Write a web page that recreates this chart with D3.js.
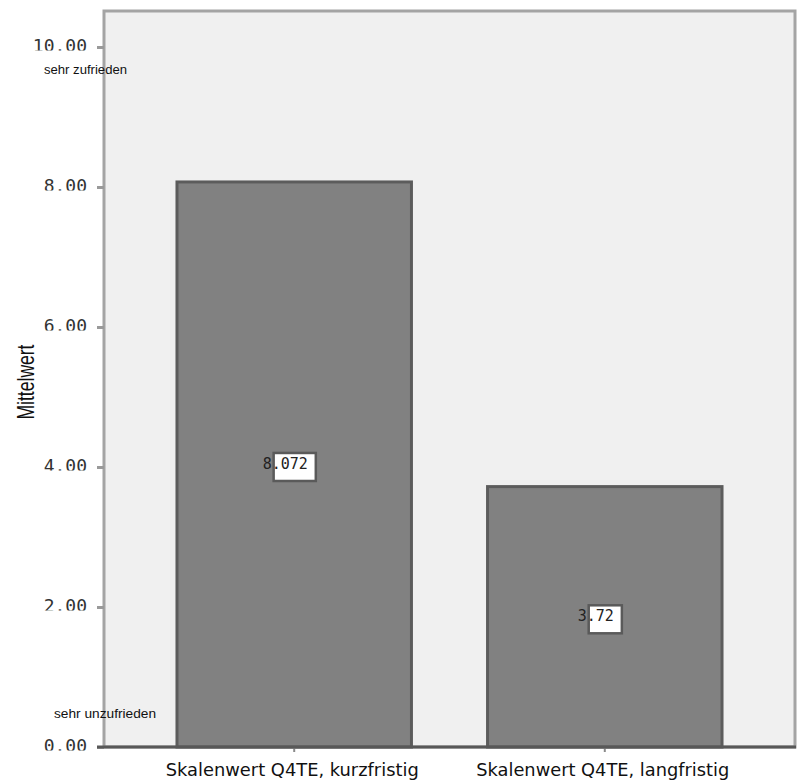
<!DOCTYPE html>
<html>
<head>
<meta charset="utf-8">
<script src="https://cdn.jsdelivr.net/npm/d3@7"></script>
<style>
  html, body { margin: 0; padding: 0; background: #ffffff; }
  svg { display: block; }
</style>
</head>
<body>
<svg id="chart" width="798" height="782"></svg>
<script>
// Mean satisfaction per scale
const categories = ["Skalenwert Q4TE, kurzfristig", "Skalenwert Q4TE, langfristig"];
const means = [8.072, 3.72];
const meanLabels = ["8.072", "3.72"];
const yTicks = [0, 2, 4, 6, 8, 10];
const scaleAnchors = [10, 0];
const scaleAnchorLabels = ["sehr zufrieden", "sehr unzufrieden"];
const yTitle = "Mittelwert";

const svg = d3.select("#chart");
const plot = { left: 104, right: 795, top: 11, bottom: 747 };

const x = d3.scaleBand()
  .domain(categories)
  .range([plot.left, plot.right])
  .paddingInner(0.245)
  .paddingOuter(0.235);

const y = d3.scaleLinear()
  .domain([0, 10])
  .range([plot.bottom, plot.bottom - 700]);

// plot background and frame
svg.append("rect")
  .attr("x", plot.left)
  .attr("y", plot.top)
  .attr("width", plot.right - plot.left)
  .attr("height", plot.bottom - plot.top)
  .attr("fill", "#f0f0f0")
  .attr("stroke", "#a4a4a4")
  .attr("stroke-width", 3);

// bars
svg.append("g").selectAll("rect")
  .data(categories)
  .join("rect")
  .attr("x", d => x(d))
  .attr("y", (d, i) => y(means[i]))
  .attr("width", x.bandwidth())
  .attr("height", (d, i) => y(0) - y(means[i]))
  .attr("fill", "#818181")
  .attr("stroke", "#5c5c5c")
  .attr("stroke-width", 3);

// y axis; tick labels are trimmed slightly at the bottom
svg.append("defs").append("clipPath")
  .attr("id", "tickClip")
  .append("rect")
  .attr("x", -80).attr("y", -20).attr("width", 80).attr("height", 23);

const yAxis = svg.append("g")
  .attr("transform", `translate(${plot.left},0)`)
  .call(d3.axisLeft(y).tickValues(yTicks).tickFormat(d3.format(".2f")).tickSize(7).tickPadding(10));
yAxis.select(".domain").remove();
yAxis.selectAll(".tick line")
  .attr("stroke", "#9a9a9a")
  .attr("stroke-width", 3);
yAxis.selectAll(".tick text")
  .attr("dy", 4)
  .attr("clip-path", "url(#tickClip)")
  .attr("font-family", "'DejaVu Sans Mono', monospace")
  .attr("font-size", 18)
  .attr("fill", "#333");

// x axis
const xAxis = svg.append("g")
  .attr("transform", `translate(0,${plot.bottom})`)
  .call(d3.axisBottom(x).tickSize(5).tickPadding(16));
xAxis.select(".domain").remove();
xAxis.selectAll(".tick line")
  .attr("stroke", "#8a8a8a")
  .attr("stroke-width", 2);
xAxis.selectAll(".tick text")
  .attr("dy", 0)
  .attr("y", 29)
  .attr("x", -2)
  .attr("font-family", "'DejaVu Sans', sans-serif")
  .attr("font-size", 17)
  .attr("fill", "#111")
  .attr("textLength", 253)
  .attr("lengthAdjust", "spacingAndGlyphs");

// baseline
svg.append("line")
  .attr("x1", plot.left - 7)
  .attr("x2", plot.right + 1)
  .attr("y1", y(0))
  .attr("y2", y(0))
  .attr("stroke", "#585858")
  .attr("stroke-width", 3);

// scale anchor annotations
const anchorOffset = [27, -29];
const anchorX = [44, 54];
const anchorLen = [83, 102];
svg.append("g").selectAll("text")
  .data(scaleAnchors)
  .join("text")
  .attr("x", (d, i) => anchorX[i])
  .attr("y", (d, i) => y(d) + anchorOffset[i])
  .attr("font-family", "'Liberation Sans', Arial, sans-serif")
  .attr("font-size", 12)
  .attr("fill", "#111")
  .attr("textLength", (d, i) => anchorLen[i])
  .attr("lengthAdjust", "spacingAndGlyphs")
  .text((d, i) => scaleAnchorLabels[i]);

// y title
svg.append("text")
  .attr("transform", `translate(34,${y(5) - 15}) rotate(-90)`)
  .attr("text-anchor", "middle")
  .attr("font-family", "'Liberation Sans Narrow', 'Liberation Sans', Arial, sans-serif")
  .attr("font-size", 24)
  .attr("fill", "#111")
  .attr("textLength", 75)
  .attr("lengthAdjust", "spacingAndGlyphs")
  .text(yTitle);

// value labels
const labels = svg.append("g").selectAll("g")
  .data(categories)
  .join("g")
  .attr("transform", (d, i) => `translate(${x(d) + x.bandwidth() / 2},${y(means[i] / 2)})`);

labels.each(function (d, i) {
  const g = d3.select(this);
  const box = g.append("rect");
  const t = g.append("text")
    .attr("x", -9)
    .attr("y", 4.5)
    .attr("text-anchor", "middle")
    .attr("font-family", "'DejaVu Sans Mono', monospace")
    .attr("font-size", 15)
    .attr("fill", "#222")
    .text(meanLabels[i]);
  const w = t.node().getComputedTextLength();
  box.attr("x", -9 - w / 2 + 11)
    .attr("y", -11.5)
    .attr("width", w - 3)
    .attr("height", 28)
    .attr("fill", "#ffffff")
    .attr("stroke", "#5a5a5a")
    .attr("stroke-width", 2.5);
});
</script>
</body>
</html>
